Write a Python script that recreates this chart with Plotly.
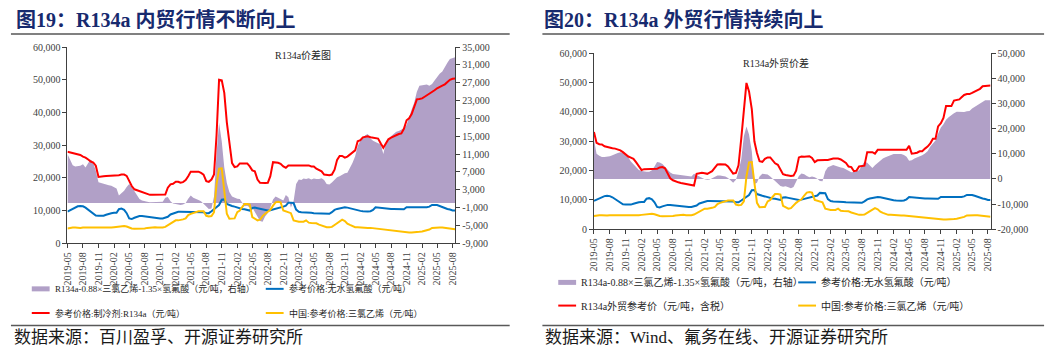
import plotly.graph_objects as go
import pandas as pd

W, H = 1057, 357

# ---------------- data (semi-monthly: 1st and 16th of each month) ----------------
months = pd.date_range("2019-05-01", "2025-08-01", freq="MS")
dates = []
for m in months:
    dates.append(m.strftime("%Y-%m-%d"))
    dates.append((m + pd.Timedelta(days=15)).strftime("%Y-%m-%d"))

tick_dates = pd.date_range("2019-05-01", "2025-08-01", freq="3MS")
tick_vals = [d.strftime("%Y-%m-%d") for d in tick_dates]
tick_text = [d.strftime("%Y-%m") for d in tick_dates]

# 参考价格:无水氢氟酸（元/吨）
hf = [9700, 10100, 10600, 11000, 11300, 11400, 11300, 10900, 10300, 9500, 9000, 8500,
      8400, 8400, 8400, 8700, 9000, 9200, 9300, 9300, 10400, 10600, 10200, 9200,
      7600, 7400, 7800, 8100, 8300, 8300, 8200, 8100, 7900, 7700, 7600, 7600,
      7600, 7600, 7800, 8100, 8800, 9100, 9500, 9600, 9600, 9600, 9600, 9600,
      9600, 9600, 9600, 9600, 9500, 9500, 9200, 9200, 9800, 10500, 11000, 11700,
      13300, 13400, 12000, 11600, 11400, 11200, 10900, 10700, 10500, 10400, 10200, 10000,
      10800, 10900, 10700, 10500, 10400, 10200, 10000, 10100, 10300, 10600, 10900, 11000,
      11200, 11500, 12400, 12400, 12300, 10300, 9600, 9500, 9500, 9500, 9400, 9300,
      9200, 9200, 9200, 9200, 9000, 9000, 9000, 9500, 10200, 10500, 10700, 11000,
      11000, 10900, 10700, 10500, 10100, 10000, 9900, 9800, 9700, 9700, 9800, 10200,
      11000, 10900, 10800, 10700, 10500, 10500, 10500, 10500, 10500, 10500, 10400, 10400,
      11000, 11000, 10900, 10900, 10800, 10900, 10900, 11000, 11000, 11200, 11700, 11700,
      11700, 11400, 11000, 10800, 10500, 10300, 10000, 10000]

# 中国:参考价格:三氯乙烯（元/吨）
tce = [4500, 4700, 4800, 4800, 4700, 4700, 4800, 4800, 4800, 4800, 4700, 4600,
       4600, 4600, 4600, 4600, 4700, 4800, 4900, 5000, 5200, 5300, 5300, 5100,
       4700, 4500, 4400, 4400, 4400, 4500, 4500, 4700, 4800, 4900, 4900, 4800,
       4700, 4800, 5000, 5500, 6000, 6500, 7000, 7000, 7100, 7300, 7600, 8600,
       9000, 9300, 9600, 9800, 9800, 9800, 8400, 8200, 8300, 9500, 18000, 22800,
       22900, 16000, 9000, 7500, 7500, 7600, 9500, 10000, 11000, 12000, 12000, 11800,
       8000, 7400, 7000, 7200, 8300, 9000, 9700, 10200, 11500, 12500, 12700, 12500,
       10000, 9800, 9500, 9200, 7000, 6700, 6600, 6600, 6600, 7000, 6300, 6200,
       6200, 6100, 5700, 5400, 5000, 4900, 4900, 5000, 5600, 6200, 6800, 7200,
       6800, 6000, 5600, 5300, 4900, 4900, 4800, 4800, 4800, 4700, 4700, 4600,
       4500, 4400, 4300, 4200, 4100, 4000, 3800, 3700, 3600, 3500, 3400, 3300,
       3300, 3300, 3300, 3300, 3400, 3500, 3600, 3800, 4000, 4200, 4700, 4800,
       4800, 4800, 4800, 4700, 4500, 4400, 4300, 4300]

# 参考价格:制冷剂:R134a（元/吨）
r134a_dom = [28000, 27800, 27400, 27200, 27100, 27000, 26500, 26200, 25600, 25000, 24700, 23700,
             20300, 20300, 20500, 20600, 20600, 20600, 20600, 20600, 20800, 21000, 21000, 20600,
             18800, 17500, 16500, 16200, 16000, 15700, 15300, 15100, 14800, 14800, 14800, 14800,
             14800, 14800, 14900, 17000, 18000, 18200, 18800, 18800, 18500, 18700, 19300, 20500,
             21900, 21900, 21900, 21900, 21500, 21000, 19000, 18800, 19500, 21000, 33000, 50000,
             49800, 46000, 37000, 30000, 24500, 23300, 23500, 24400, 24400, 24400, 24400, 23500,
             22300, 22000, 19500, 18500, 18400, 18400, 18500, 20500, 24800, 24800, 24600, 24300,
             23500, 23100, 23800, 23800, 23800, 23800, 23800, 23800, 23800, 23800, 23800, 23500,
             23500, 22800, 22300, 22000, 21000, 20800, 20800, 21000, 22500, 25500, 26700, 26700,
             26200, 26500, 27200, 27700, 28400, 31200, 31500, 32400, 32600, 32700, 32400, 32300,
             32200, 32000, 30500, 29200, 30500, 31800, 32300, 32700, 33000, 33400, 33600, 35000,
             37600, 38200, 39500, 41500, 44000, 44100, 44300, 44800, 45200, 45800, 46300, 46800,
             47400, 47900, 48200, 48600, 49200, 50000, 50300, 50400]

# R134a-0.88×三氯乙烯-1.35×氢氟酸（元/吨，右轴）内贸
spread_dom = [11000, 9800, 8500, 8200, 8300, 8400, 8700, 8000, 9000, 9800, 9000, 7200,
              4700, 4500, 4300, 4200, 4000, 3900, 3600, 3300, 1700, 2200, 2800, 3600,
              4300, 3600, 2700, 1600, 900, 600, 400, 300, 200, 200, 200, 200,
              200, 300, 1200, 1400, 400, -100, -200, -300, -400, -300, 0, 1000,
              1700, 1200, 1000, 700, 400, -200, -800, -1300, -1200, 1500, 11000, 18000,
              13800, 8000, 4500, 2500, 1500, 1200, 1000, 900, 200, -700, -600, -1000,
              -1000, -2000, -3300, -4000, -4200, -3000, -2200, -1000, 800, 1500, 1200, 900,
              600, 1800, 1300, -1000, 500, 4300, 5300, 5200, 5500, 5400, 5600, 5300,
              5500, 5400, 5400, 5600, 5200, 4300, 4200, 4600, 5300, 5800, 6000, 6400,
              6700, 6800, 7800, 9000, 10500, 12800, 14000, 14700, 15200, 15500, 14500, 14000,
              13600, 13400, 13200, 11000, 13500, 14300, 15000, 15500, 16000, 16200, 16500, 16800,
              17500, 19500, 21000, 22500, 25000, 26300, 26400, 26500, 26600, 26300, 26700, 27500,
              28400, 29000, 29500, 30600, 31500, 32300, 32500, 32700]

# R134a外贸参考价（元/吨，含税）
r134a_exp = [33200, 29500, 29000, 28900, 28300, 28000, 27800, 27600, 27500, 27300, 26900, 26300,
             25500, 24800, 24400, 24000, 22800, 21500, 20200, 20500, 20500, 20500, 20500, 20500,
             20600, 21100, 21200, 20800, 18800, 17400, 16700, 16300, 16000, 15800, 15600, 15400,
             15200, 15000, 14900, 18900, 19000, 19300, 19100, 18900, 19300, 19800, 21000, 22100,
             22200, 22200, 22100, 21400, 20000, 19000, 19200, 21800, 31000, 40000, 49900, 47000,
             41000, 30000, 26000, 23200, 23000, 24000, 24500, 24500, 23600, 22500, 22000, 20500,
             18800, 18500, 18300, 18200, 18300, 20000, 24500, 24800, 24700, 24700, 24900, 24300,
             22900, 23500, 23600, 23600, 23600, 23600, 24000, 24100, 24100, 24100, 23800, 23200,
             22600, 21400, 21200, 19800, 20000, 21400, 21600, 21700, 26300, 26300, 26300, 25800,
             27100, 27100, 27100, 27100, 27100, 27100, 27100, 27100, 27100, 27100, 27100, 27100,
             28500, 25800, 25900, 26100, 26600, 26600, 27500, 28200, 29300, 30900, 30900, 35100,
             36200, 38000, 42000, 42000, 42000, 43900, 44100, 44300, 45000, 45800, 46100, 46100,
             46500, 46900, 47500, 47900, 48800, 48900, 49000, 49000]

# R134a-0.88×三氯乙烯-1.35×氢氟酸（元/吨，右轴）外贸
spread_exp = [15800, 10000, 9200, 8700, 8700, 8700, 9000, 9400, 10000, 10300, 10600, 10300,
              9400, 8600, 7000, 5800, 4400, 3600, 3200, 2900, 2900, 2900, 3500, 5000,
              6800, 6600, 6000, 4900, 3600, 2600, 2000, 1900, 1700, 1600, 1500, 1400,
              1200, 1000, 2100, 1500, 1000, 300, -100, -300, -200, 300, 1000, 1400,
              1400, 1200, 1000, 400, -600, -1500, -300, 3000, 8000, 17000, 20900, 17700,
              11000, -2000, -1500, 1000, 2100, 2000, 1800, 1000, 200, -900, -1500, -2800,
              -3100, -2900, -3300, -3700, -3200, -1000, 1200, 2200, 1900, 1200, 700, 1000,
              700, 100, -800, -900, 3100, 4700, 5200, 5600, 5300, 4900, 4600, 4400,
              3800, 3300, 2700, 2800, 3000, 3500, 5300, 6900, 6500, 5500, 4400, 5500,
              6500, 7500, 8200, 8600, 9100, 9400, 9900, 9900, 9900, 9900, 9500, 8800,
              7300, 7500, 8200, 8500, 9100, 9400, 10100, 11000, 12900, 14000, 15300, 18000,
              20500, 21800, 23600, 24600, 25500, 26200, 26800, 26800, 26600, 26700, 27000, 27100,
              28100, 28800, 29500, 30000, 30800, 31300, 31300, 31300]

left_ticks = list(range(0, 60001, 10000))
right_ticks_dom = list(range(-9000, 35001, 4000))
right_ticks_exp = list(range(-20000, 50001, 10000))

# ---------------- styling ----------------
PURPLE = "#B1A0C7"
BLUE = "#0070C0"
RED = "#FF0000"
YELLOW = "#FFC000"
AXC = "#404040"
SERIF = "Liberation Serif, Times New Roman, Noto Sans CJK SC, serif"
TICKFONT = dict(family=SERIF, size=10, color=AXC)


def px(x):
    return x / W


def py(y):
    return 1 - y / H


fig = go.Figure()

panels = [
    dict(xa="x", ya_sp="y", ya_ln="y2", spread=spread_dom, r134=r134a_dom),
    dict(xa="x2", ya_sp="y3", ya_ln="y4", spread=spread_exp, r134=r134a_exp),
]
for p in panels:
    fig.add_trace(go.Scatter(x=dates, y=p["spread"], xaxis=p["xa"], yaxis=p["ya_sp"],
                             mode="lines", line=dict(width=0, color=PURPLE),
                             fill="tozeroy", fillcolor=PURPLE, showlegend=False))
    fig.add_trace(go.Scatter(x=dates, y=hf, xaxis=p["xa"], yaxis=p["ya_ln"], mode="lines",
                             line=dict(width=2, color=BLUE), showlegend=False))
    fig.add_trace(go.Scatter(x=dates, y=p["r134"], xaxis=p["xa"], yaxis=p["ya_ln"], mode="lines",
                             line=dict(width=2, color=RED), showlegend=False))
    fig.add_trace(go.Scatter(x=dates, y=tce, xaxis=p["xa"], yaxis=p["ya_ln"], mode="lines",
                             line=dict(width=2, color=YELLOW), showlegend=False))

xcommon = dict(type="date", range=[dates[0], dates[-1]], tickmode="array",
               tickvals=tick_vals, ticktext=tick_text, tickangle=-90,
               ticks="outside", ticklen=4, tickcolor=AXC, showline=True, linecolor=AXC,
               linewidth=1, showgrid=False, zeroline=False,
               tickfont=dict(family=SERIF, size=10, color=AXC))
ycommon = dict(ticks="outside", ticklen=4, tickcolor=AXC, showline=True, linecolor=AXC,
               linewidth=1, showgrid=False, zeroline=False, tickfont=TICKFONT, tickmode="array")

dom_l = [px(62), px(453)]
dom_r = [px(593), px(993)]
ydom_l = [py(245.5), py(42.5)]
ydom_r = [py(231), py(49)]

fig.update_layout(
    xaxis=dict(domain=dom_l, anchor="y", **xcommon),
    yaxis=dict(domain=ydom_l, anchor="x", side="right", range=[-9000, 35000],
               tickvals=right_ticks_dom, ticktext=[f"{v:,}" for v in right_ticks_dom], **ycommon),
    yaxis2=dict(overlaying="y", anchor="x", side="left", range=[0, 60000],
                tickvals=left_ticks, ticktext=[f"{v:,}" for v in left_ticks], **ycommon),
    xaxis2=dict(domain=dom_r, anchor="y3", **xcommon),
    yaxis3=dict(domain=ydom_r, anchor="x2", side="right", range=[-20000, 50000],
                tickvals=right_ticks_exp, ticktext=[f"{v:,}" for v in right_ticks_exp], **ycommon),
    yaxis4=dict(overlaying="y3", anchor="x2", side="left", range=[0, 60000],
                tickvals=left_ticks, ticktext=[f"{v:,}" for v in left_ticks], **ycommon),
)

shapes = []
annotations = []

TITLE_COLOR = "#172A6E"
titles = [(8, "图19：R134a 内贸行情不断向上"), (541, "图20：R134a 外贸行情持续向上")]
for x0, t in titles:
    annotations.append(dict(x=px(x0), y=py(15), xref="paper", yref="paper", xanchor="left",
                            yanchor="middle", showarrow=False, text=f"<b>{t}</b>",
                            font=dict(family=SERIF, size=20, color=TITLE_COLOR)))

# rules
for x0, x1 in [(5, 508), (541, 1047)]:
    shapes.append(dict(type="line", xref="paper", yref="paper", x0=px(x0), x1=px(x1),
                       y0=py(29), y1=py(29), line=dict(color="#808080", width=2)))
    shapes.append(dict(type="line", xref="paper", yref="paper", x0=px(x0), x1=px(x1),
                       y0=py(330.5), y1=py(330.5), line=dict(color="#595959", width=1.5)))

# chart inner titles
annotations.append(dict(x=px(269), y=py(42), xref="paper", yref="paper", showarrow=False,
                        text="R134a价差图", font=dict(family=SERIF, size=10, color="#262626")))
annotations.append(dict(x=px(812), y=py(51), xref="paper", yref="paper", showarrow=False,
                        text="R134a外贸价差", font=dict(family=SERIF, size=10, color="#262626")))

# legends
legends = [
    # (sym_x0, y, color, width, text, size)
    (26, 292.7, PURPLE, 5, "R134a-0.88×三氯乙烯-1.35×氢氟酸（元/吨，右轴）", 9),
    (262, 292.7, BLUE, 2, "参考价格:无水氢氟酸（元/吨）", 9),
    (26, 317.7, RED, 2, "参考价格:制冷剂:R134a（元/吨）", 9),
    (262, 317.7, YELLOW, 2, "中国:参考价格:三氯乙烯（元/吨）", 9),
    (557, 286, PURPLE, 5, "R134a-0.88×三氯乙烯-1.35×氢氟酸（元/吨，右轴）", 10),
    (799, 286, BLUE, 2, "参考价格:无水氢氟酸（元/吨）", 10),
    (557, 310, RED, 2, "R134a外贸参考价（元/吨，含税）", 10),
    (799, 310, YELLOW, 2, "中国:参考价格:三氯乙烯（元/吨）", 10),
]
for x0, y, c, w, t, s in legends:
    shapes.append(dict(type="line", xref="paper", yref="paper", x0=px(x0), x1=px(x0 + 18),
                       y0=py(y), y1=py(y), line=dict(color=c, width=w)))
    annotations.append(dict(x=px(x0 + 21), y=py(y), xref="paper", yref="paper", xanchor="left",
                            yanchor="middle", showarrow=False, text=t,
                            font=dict(family=SERIF, size=s, color="#262626")))

# sources
SRCFONT = dict(family=SERIF, size=17, color="#1a1a1a")
for x0, t in [(6, "数据来源：百川盈孚、开源证券研究所"), (542, "数据来源：Wind、氟务在线、开源证券研究所")]:
    annotations.append(dict(x=px(x0), y=py(343.5), xref="paper", yref="paper", xanchor="left",
                            yanchor="middle", showarrow=False, text=t, font=SRCFONT))

fig.update_layout(
    width=W, height=H, autosize=False,
    margin=dict(l=0, r=0, t=0, b=0),
    paper_bgcolor="white", plot_bgcolor="white",
    showlegend=False,
    shapes=shapes, annotations=annotations,
)

fig.write_html("out.html", config={"displayModeBar": False},
               post_script="document.body.style.margin='0';document.body.style.overflow='hidden';")
